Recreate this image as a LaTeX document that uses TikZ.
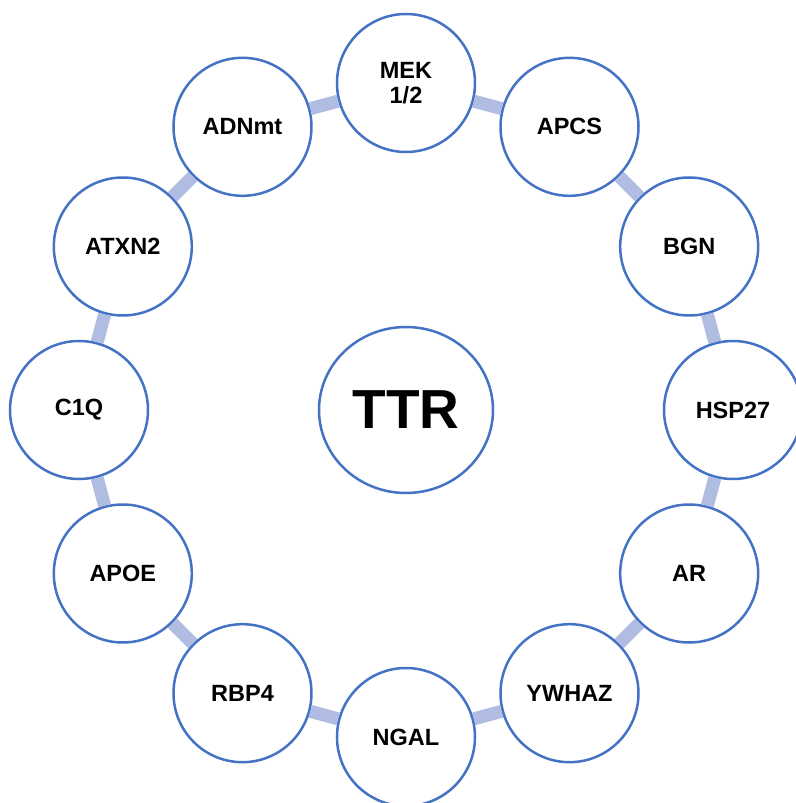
\documentclass[tikz,border=0pt]{standalone}
\usepackage{fontspec}
\setmainfont{Liberation Sans}
\usepackage{tikz}
\usetikzlibrary{positioning, shapes.geometric}
\definecolor{ringblue}{RGB}{68,114,196}
\definecolor{linklav}{RGB}{176,188,226}

\begin{document}
\begin{tikzpicture}[
			gene/.style = {circle, draw = ringblue, line width = 2.5pt, fill = white, minimum size = 138pt, inner sep = 0pt, text centered, font = \fontsize{23.5}{25}\selectfont\bfseries, align = center},
			hub/.style = {ellipse, draw = ringblue, line width = 2.5pt, fill = white, minimum width = 174pt, minimum height = 166pt, font = \fontsize{55}{60}\selectfont\bfseries},
			link/.style = {draw = linklav, line width = 13pt},
		]
		\useasboundingbox (-406pt,-393pt) rectangle (389pt,410pt);

		\node[hub](TTR) at (0,0){TTR};

		\node[gene](MEK) at (90:327pt){MEK\\1/2};
		\node[gene](APCS) at (60:327pt){APCS};
		\node[gene](BGN) at (30:327pt){BGN};
		\node[gene](HSP) at (0:327pt){HSP27};
		\node[gene](AR) at (-30:327pt){AR};
		\node[gene](YWHAZ) at (-60:327pt){YWHAZ};
		\node[gene](NGAL) at (-90:327pt){NGAL};
		\node[gene](RBP) at (-120:327pt){RBP4};
		\node[gene](APOE) at (-150:327pt){APOE};
		\node[gene](C1Q) at (180:327pt){C1Q};
		\node[gene](ATXN) at (150:327pt){ATXN2};
		\node[gene](ADN) at (120:327pt){ADNmt};

		\draw[link](MEK)--(APCS);
		\draw[link](APCS)--(BGN);
		\draw[link](BGN)--(HSP);
		\draw[link](HSP)--(AR);
		\draw[link](AR)--(YWHAZ);
		\draw[link](YWHAZ)--(NGAL);
		\draw[link](NGAL)--(RBP);
		\draw[link](RBP)--(APOE);
		\draw[link](APOE)--(C1Q);
		\draw[link](C1Q)--(ATXN);
		\draw[link](ATXN)--(ADN);
		\draw[link](ADN)--(MEK);
	\end{tikzpicture}
\end{document}
